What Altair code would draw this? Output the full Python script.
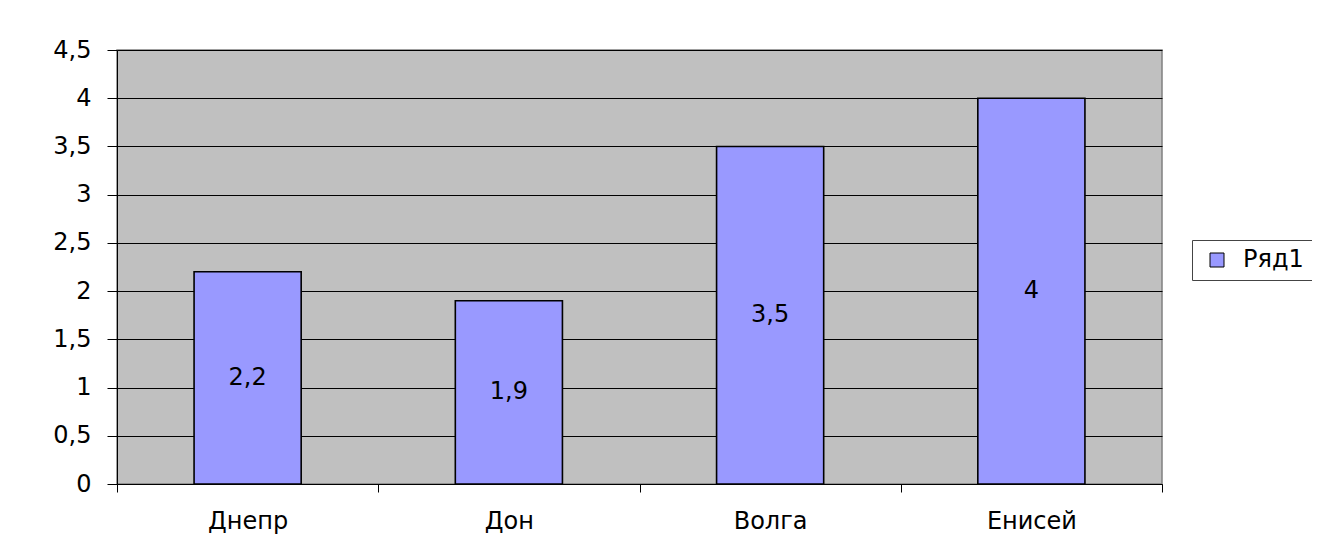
import altair as alt
import pandas as pd

categories = ["Днепр", "Дон", "Волга", "Енисей"]
values = [2.2, 1.9, 3.5, 4.0]
series_name = "Ряд1"
y_ticks = [0, 0.5, 1, 1.5, 2, 2.5, 3, 3.5, 4, 4.5]

df = pd.DataFrame({"cat": categories, "val": values})
df["series"] = series_name

FONT = "DejaVu Sans"
FS = 24
W, H = 1045, 434

base = alt.Chart(df).transform_calculate(
    mid="datum.val / 2",
    lbl="replace(toString(datum.val), '.', ',')",
)

x_enc = alt.X(
    "cat:N",
    sort=categories,
    scale=alt.Scale(paddingInner=0, paddingOuter=0),
    axis=alt.Axis(
        title=None, labelAngle=0, labelFontSize=FS, labelFont=FONT,
        labelColor="#000", tickBand="extent", tickSize=8, tickColor="#000",
        domainColor="#000", labelPadding=17, grid=False,
    ),
)

bars = base.mark_bar(
    width=alt.RelativeBandSize(0.41), stroke="#000", strokeWidth=1.6
).encode(
    x=x_enc,
    y=alt.Y(
        "val:Q",
        scale=alt.Scale(domain=[0, 4.5], nice=False),
        axis=alt.Axis(
            title=None, values=y_ticks, labelFontSize=FS, labelFont=FONT,
            labelColor="#000",
            labelExpr="replace(toString(datum.value), '.', ',')",
            tickSize=10, tickColor="#000", domainColor="#000",
            labelPadding=16, grid=True, gridColor="#000", gridWidth=1,
        ),
    ),
    color=alt.Color(
        "series:N",
        scale=alt.Scale(domain=[series_name], range=["#9999FF"]),
        legend=alt.Legend(
            title=None, orient="none", legendX=1075, legendY=190,
            symbolType="square", symbolSize=196, symbolStrokeColor="#000",
            symbolStrokeWidth=1, symbolOffset=5, labelFontSize=FS,
            labelFont=FONT, labelColor="#000", strokeColor="#444",
            padding=8, fillColor="#FFFFFF", labelOffset=14,
        ),
    ),
)

labels = base.mark_text(fontSize=FS, font=FONT, color="#000").encode(
    x=alt.X("cat:N", sort=categories),
    y=alt.Y("mid:Q"),
    text="lbl:N",
)

chart = alt.layer(bars, labels).properties(
    width=W, height=H,
    autosize=alt.AutoSizeParams(type="none"),
    padding={"left": 109, "top": 42, "right": 150, "bottom": 60},
    background="#FFFFFF",
).configure_view(
    fill="#C0C0C0", stroke="#808080", strokeWidth=1.5
)

chart.save("out.html", embed_options={"renderer": "svg", "actions": False})
